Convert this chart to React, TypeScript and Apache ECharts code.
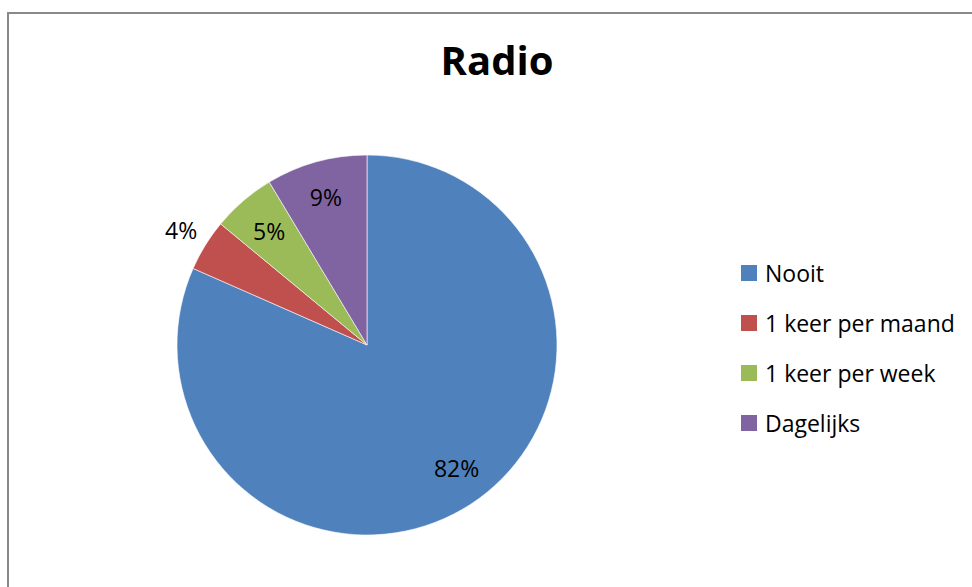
import React, { useEffect, useRef } from "react";
import * as echarts from "echarts";

const categories = ["Nooit", "1 keer per maand", "1 keer per week", "Dagelijks"];
const values = [81.6, 4.4, 5.4, 8.6];
const colors = ["#4F81BD", "#C0504D", "#9BBB59", "#8064A2"];
const labelRadiusFactor = [0.8, 1.15, 0.79, 0.81];
const labelAngleShift = [-3, 0, 0, 0];

const CX = 367;
const CY = 345;
const R = 190;

export default function App() {
  const ref = useRef<HTMLDivElement>(null);
  useEffect(() => {
    if (!ref.current) return;
    const chart = echarts.init(ref.current, null, { renderer: "svg" });
    const total = values.reduce((a, b) => a + b, 0);
    const cum: number[] = [];
    let acc = 0;
    values.forEach((v) => {
      cum.push(acc);
      acc += v;
    });
    const FONT = "'Open Sans', 'Noto Sans', sans-serif";
    chart.setOption({
      animation: false,
      backgroundColor: "#ffffff",
      title: {
        text: "Radio",
        left: 492,
        top: 34,
        textAlign: "center",
        textStyle: { fontFamily: FONT, fontSize: 40, fontWeight: "bold", color: "#000" },
      },
      legend: {
        orient: "vertical",
        left: 741,
        top: 261,
        itemWidth: 16,
        itemHeight: 16,
        itemGap: 26,
        icon: "rect",
        padding: 0,
        itemStyle: { borderWidth: 0 },
        textStyle: { fontFamily: FONT, fontSize: 23, color: "#000", lineHeight: 24, padding: [0, 0, 0, 3] },
        data: categories,
      },
      graphic: [
        {
          type: "rect",
          shape: { x: 8, y: 13, width: 1100, height: 1000 },
          style: { fill: "none", stroke: "#898989", lineWidth: 2 },
          silent: true,
        },
      ],
      series: [
        {
          type: "pie",
          center: [CX, CY],
          radius: [0, R],
          startAngle: 90,
          clockwise: true,
          avoidLabelOverlap: false,
          itemStyle: { borderColor: "#ffffff", borderWidth: 0.6 },
          label: {
            show: true,
            position: "inside",
            fontFamily: FONT,
            fontSize: 23,
            color: "#000",
            formatter: (p: any) => Math.round(p.percent) + "%",
          },
          labelLine: { show: false },
          labelLayout: (params: any) => {
            const i = params.dataIndex;
            const frac = (cum[i] + values[i] / 2) / total;
            const ang = (90 - 360 * frac - labelAngleShift[i]) * (Math.PI / 180);
            const r = R * labelRadiusFactor[i];
            return {
              x: CX + r * Math.cos(ang),
              y: CY - r * Math.sin(ang),
              align: "center",
              verticalAlign: "middle",
            };
          },
          data: categories.map((c, i) => ({
            name: c,
            value: values[i],
            itemStyle: { color: colors[i] },
          })),
        },
      ],
    });
    return () => chart.dispose();
  }, []);
  return (
    <div
      ref={ref}
      style={{ position: "absolute", left: 0, top: 0, width: 972, height: 587, background: "#fff" }}
    />
  );
}
